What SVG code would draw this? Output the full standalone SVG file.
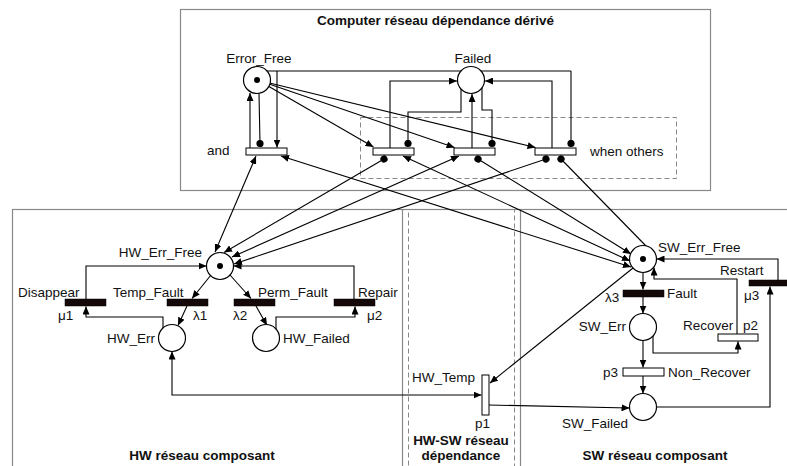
<svg xmlns="http://www.w3.org/2000/svg" width="787" height="466" viewBox="0 0 787 466">
<defs>
<marker id="arr" markerUnits="userSpaceOnUse" markerWidth="9" markerHeight="7" refX="8" refY="3.5" orient="auto-start-reverse"><path d="M0,0 L8,3.5 L0,7 z" fill="#000"/></marker>
<marker id="dot" markerUnits="userSpaceOnUse" markerWidth="8" markerHeight="8" refX="4" refY="4" orient="auto"><circle cx="4" cy="4" r="3.6" fill="#000"/></marker>
<style>
text{font-family:"Liberation Sans",Arial,sans-serif;font-size:13.5px;fill:#111}
.b{font-weight:bold}
.m{text-anchor:middle}
.e{text-anchor:end}
.box{fill:none;stroke:#888;stroke-width:1.2}
.dash{fill:none;stroke:#888;stroke-width:1;stroke-dasharray:5,3}
.pl{fill:#fff;stroke:#000;stroke-width:1.2}
.tk{fill:#000}
.tw{fill:#fff;stroke:#000;stroke-width:1}
.tb{fill:#140808;stroke:#000;stroke-width:0.5}
.c path{fill:none;stroke:#000;stroke-width:1.1}
.a{marker-end:url(#arr)}
.aa{marker-end:url(#arr);marker-start:url(#arr)}
.d{marker-end:url(#dot)}
.da{marker-start:url(#dot);marker-end:url(#arr)}
.dn{marker-start:url(#dot)}
</style>
</defs>

<g id="frames">
<rect class="box" x="180.5" y="9.5" width="530" height="181"/>
<rect class="dash" x="360.5" y="117.5" width="316" height="61"/>
<rect class="box" x="12.5" y="209.5" width="790" height="270"/>
<line class="box" x1="402.5" y1="210" x2="402.5" y2="470"/>
<line class="box" x1="520.5" y1="210" x2="520.5" y2="470"/>
<rect class="dash" x="408.5" y="209.5" width="106" height="270"/>
<text class="b" x="317" y="25">Computer réseau dépendance dérivé</text>
<text class="b m" x="202" y="460">HW réseau composant</text>
<text class="b m" x="461" y="445">HW-SW réseau</text>
<text class="b m" x="461" y="460">dépendance</text>
<text class="b m" x="655" y="460">SW réseau composant</text>
<text x="207" y="155">and</text>
<text x="590" y="156">when others</text>
</g>

<g id="connectors" class="c">
<!-- top -->
<path class="a" d="M250,148 V93"/>
<path class="d" d="M259,93.5 L260,143.5"/>
<path d="M266,71 H571"/>
<path class="a" d="M277,71 V147.5"/>
<path class="d" d="M571,71 V143.5"/>
<path class="a" d="M268,86 L373.5,147"/>
<path class="a" d="M269,84 L454.5,147.5"/>
<path class="a" d="M269.5,83 L535.5,147.5"/>
<path class="a" d="M390,148 V81 H457"/>
<path class="d" d="M461,89 V112 H408 V143.5"/>
<path class="a" d="M472,148 V94"/>
<path class="d" d="M482,87 V110 H492 V143.5"/>
<path class="a" d="M552,148 V81 H485"/>
<!-- crossing -->
<path class="aa" d="M256,156 L215,252"/>
<path class="da" d="M384,159 L224,252.5"/>
<path class="aa" d="M459,156 L232,257"/>
<path class="da" d="M546,159 L234,264"/>
<path class="aa" d="M281,156 L631,267"/>
<path class="aa" d="M403,156 L630,261"/>
<path class="da" d="M478,159 L631,254"/>
<path class="dn" d="M561,159 L647,247"/>
<!-- HW -->
<path class="a" d="M211,275 L192,298.5"/>
<path class="a" d="M187,306 L178,325.5"/>
<path class="a" d="M230,275 L251,298.5"/>
<path class="a" d="M256,306 L267,325.5"/>
<path class="a" d="M163,328.5 V317 H86 V306.5"/>
<path class="a" d="M86,299 V266 H206.5"/>
<path class="a" d="M276,329.5 V317 H355 V306.5"/>
<path class="a" d="M354,299 V266 H233.5"/>
<path class="aa" d="M172,351.5 V395 H481.5"/>
<!-- HW-SW -->
<path class="a" d="M633,268 L490,383"/>
<path class="a" d="M489,405 L629.5,408"/>
<!-- SW -->
<path class="a" d="M643,272 V289.5"/>
<path class="a" d="M643,297 V313.5"/>
<path class="a" d="M643,340 V367.5"/>
<path class="a" d="M643,376 V393.5"/>
<path class="a" d="M653,335 V353 H738 V341.5"/>
<path class="a" d="M737,334 V279 H654 V267.5"/>
<path class="a" d="M656,407 H770 V286.5"/>
<path class="a" d="M778,280 V259 H656.5"/>
</g>

<g id="Error_Free"><circle class="pl" cx="257" cy="80" r="13.5"/><circle class="tk" cx="257" cy="80" r="3"/><text class="m" x="259" y="63">Error_Free</text></g>
<g id="Failed"><circle class="pl" cx="471" cy="80" r="13.5"/><text class="m" x="473" y="63">Failed</text></g>
<g id="t_and"><rect class="tw" x="246" y="148" width="41" height="7"/></g>
<g id="t2"><rect class="tw" x="373" y="148" width="41" height="7"/></g>
<g id="t3"><rect class="tw" x="454" y="148" width="41" height="7"/></g>
<g id="t4"><rect class="tw" x="535" y="148" width="41" height="7"/></g>

<g id="HW_Err_Free"><circle class="pl" cx="220" cy="266" r="13.5"/><circle class="tk" cx="220" cy="266" r="3"/><text class="e" x="202" y="257">HW_Err_Free</text></g>
<g id="Disappear"><rect class="tb" x="65" y="299" width="41" height="7"/><text x="18" y="297">Disappear</text><text x="58" y="320">μ1</text></g>
<g id="Temp_Fault"><rect class="tb" x="167" y="299" width="41" height="7"/><text x="113" y="297">Temp_Fault</text><text x="193" y="320">λ1</text></g>
<g id="Perm_Fault"><rect class="tb" x="234" y="299" width="41" height="7"/><text x="258" y="297">Perm_Fault</text><text x="233" y="320">λ2</text></g>
<g id="Repair"><rect class="tb" x="334" y="299" width="41" height="7"/><text x="358" y="297">Repair</text><text x="367" y="320">μ2</text></g>
<g id="HW_Err"><circle class="pl" cx="172" cy="338" r="13.5"/><text class="e" x="155" y="343">HW_Err</text></g>
<g id="HW_Failed"><circle class="pl" cx="266" cy="338" r="13.5"/><text x="283" y="343">HW_Failed</text></g>

<g id="HW_Temp"><rect class="tw" x="482" y="375" width="7" height="40"/><text x="412" y="382">HW_Temp</text><text x="475" y="428">p1</text></g>

<g id="SW_Err_Free"><circle class="pl" cx="643" cy="259" r="13.5"/><circle class="tk" cx="643" cy="259" r="3"/><text x="658" y="252">SW_Err_Free</text></g>
<g id="Fault"><rect class="tb" x="623" y="290" width="41" height="7"/><text x="667" y="298">Fault</text><text x="605" y="302">λ3</text></g>
<g id="SW_Err"><circle class="pl" cx="643" cy="327" r="13.5"/><text class="e" x="626" y="331">SW_Err</text></g>
<g id="Non_Recover"><rect class="tw" x="623" y="368" width="41" height="8"/><text x="668" y="377">Non_Recover</text><text x="603" y="377">p3</text></g>
<g id="SW_Failed"><circle class="pl" cx="643" cy="407" r="13.5"/><text x="562" y="428">SW_Failed</text></g>
<g id="Recover"><rect class="tw" x="718" y="334" width="40" height="7"/><text x="683" y="330">Recover</text><text x="743" y="330">p2</text></g>
<g id="Restart"><rect class="tb" x="749" y="280" width="45" height="6"/><text x="720" y="275">Restart</text><text x="744" y="300">μ3</text></g>
</svg>
